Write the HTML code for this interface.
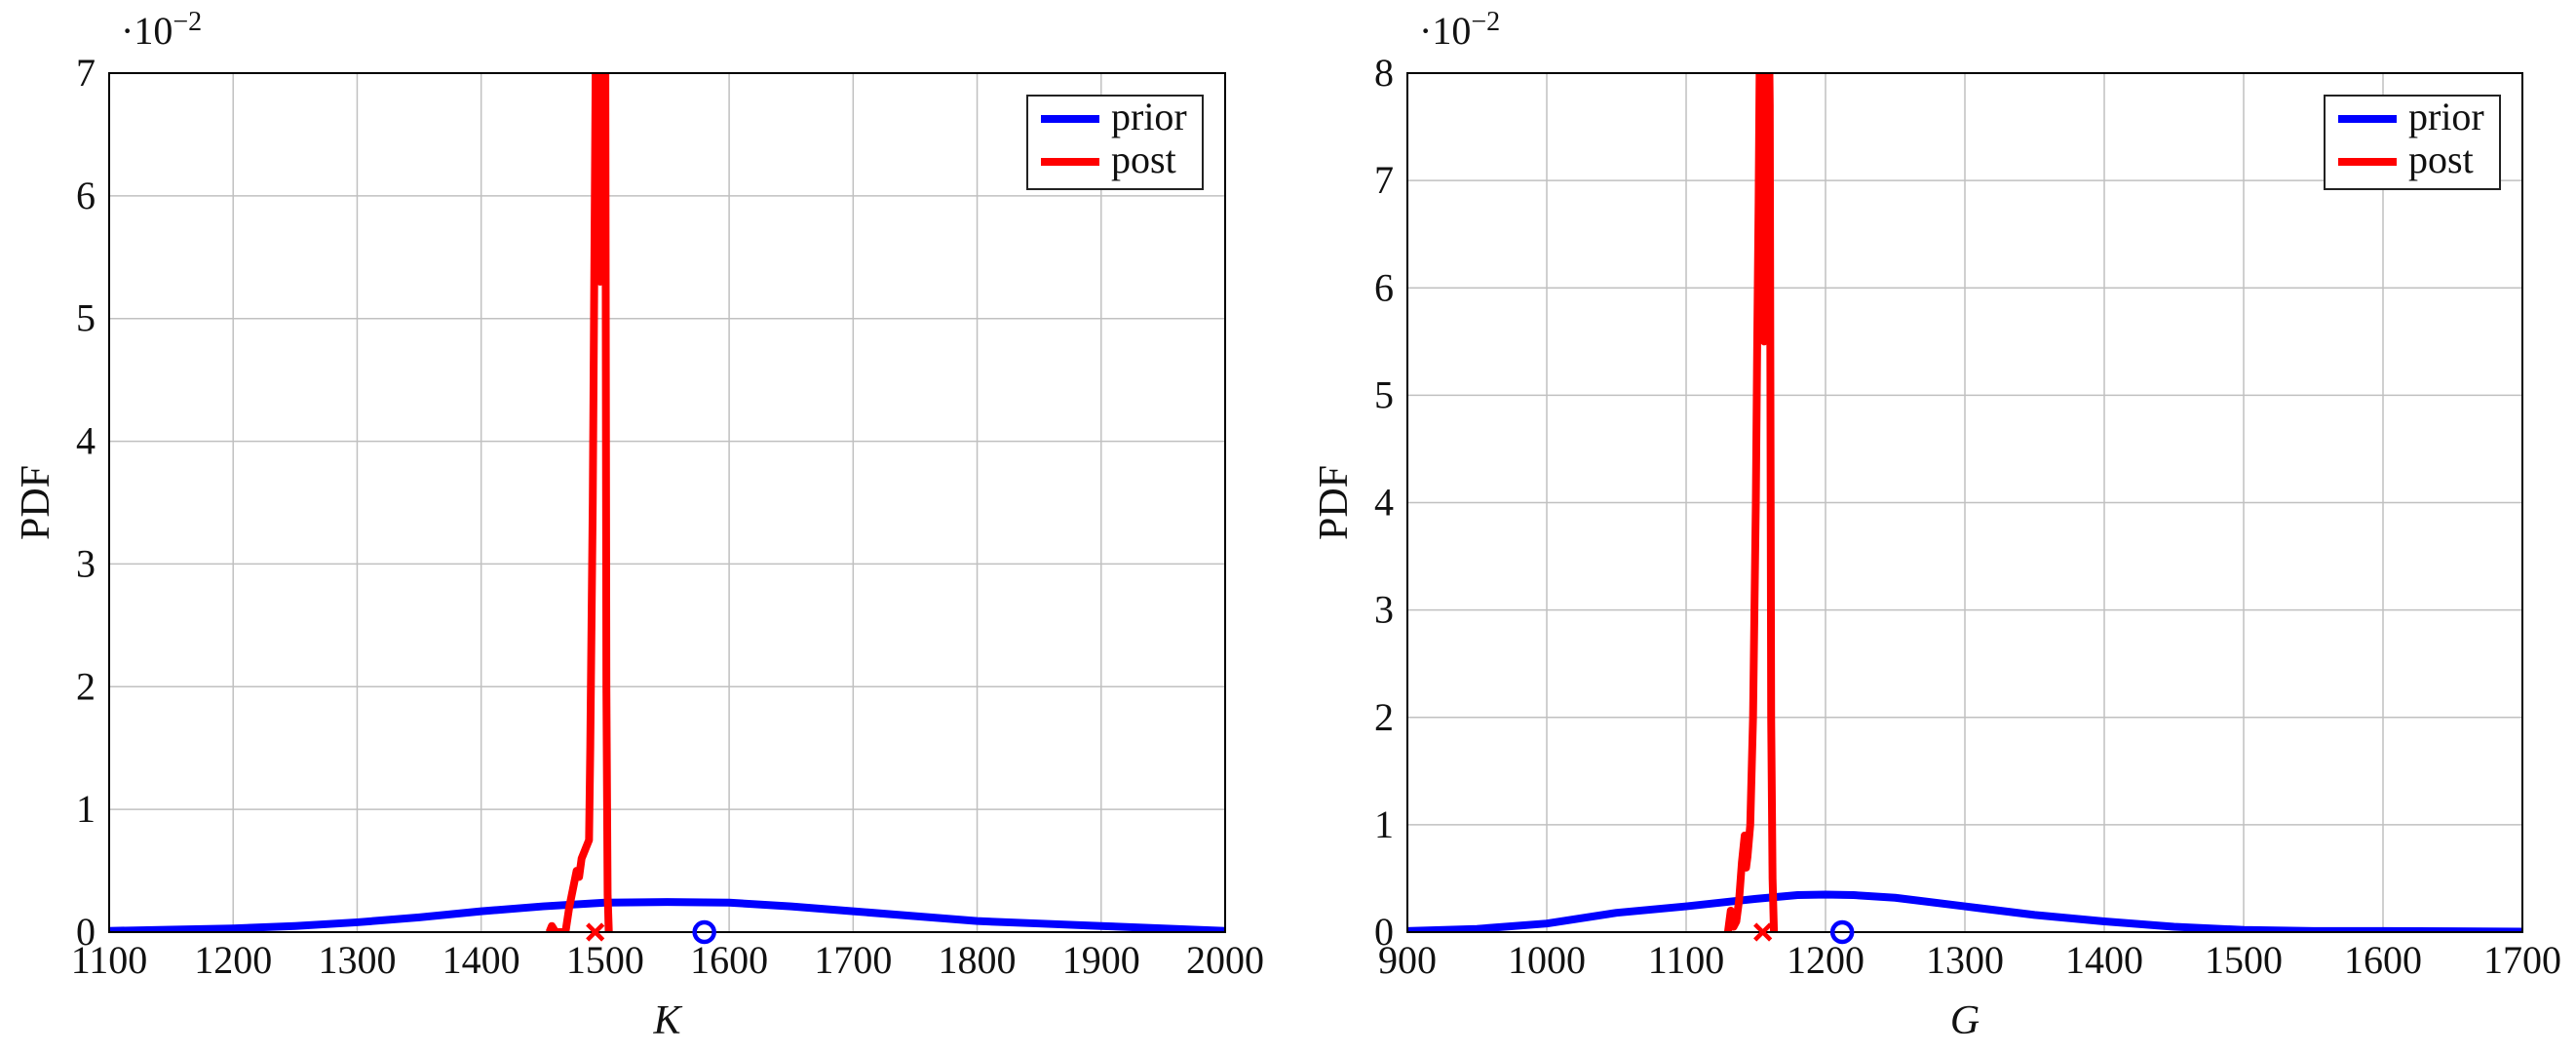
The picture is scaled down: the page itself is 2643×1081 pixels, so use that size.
<!DOCTYPE html>
<html><head><meta charset="utf-8">
<style>
html,body{margin:0;padding:0;background:#fff;}
svg{display:block;font-family:"Liberation Serif",serif;}
</style></head>
<body>
<svg id="chart" width="2643" height="1081" viewBox="0 0 2643 1081" xmlns="http://www.w3.org/2000/svg"></svg>
<script>
// Left panel (K)
const kXTicks = [1100,1200,1300,1400,1500,1600,1700,1800,1900,2000];
const kYTicks = [0,1,2,3,4,5,6,7];
const kPriorX = [1100,1150,1200,1250,1300,1350,1400,1450,1500,1550,1600,1650,1700,1750,1800,1850,1900,1950,2000];
const kPriorY = [0.01,0.02,0.03,0.05,0.08,0.12,0.17,0.21,0.24,0.245,0.24,0.21,0.17,0.13,0.09,0.07,0.05,0.03,0.01];
const kPostX = [1455,1457,1460,1468,1471,1474,1477,1479,1481,1483,1485,1487,1488,1489,1490,1491,1492,1493,1494,1495,1496,1497,1498,1499,1500,1501,1502,1503];
const kPostY = [0,0.05,0,0,0.2,0.35,0.5,0.45,0.6,0.65,0.7,0.75,1.5,2.5,3.5,5,6.5,8,9,7,5.3,8,9,10,8,2,0.3,0];
const kMarkCircle = 1580;
const kMarkCross = 1492;
// Right panel (G)
const gXTicks = [900,1000,1100,1200,1300,1400,1500,1600,1700];
const gYTicks = [0,1,2,3,4,5,6,7,8];
const gPriorX = [900,950,1000,1050,1100,1150,1180,1200,1220,1250,1300,1350,1400,1450,1500,1550,1600,1650,1700];
const gPriorY = [0.01,0.03,0.08,0.18,0.24,0.31,0.345,0.35,0.345,0.32,0.24,0.16,0.1,0.05,0.02,0.01,0.01,0.008,0.005];
const gPostX = [1130,1132,1134,1136,1138,1140,1142,1143,1144,1146,1148,1150,1151,1152,1153,1154,1155,1156,1157,1158,1159,1160,1161,1162,1163];
const gPostY = [0,0.2,0.05,0.1,0.3,0.65,0.9,0.6,0.7,1.0,2.0,4.0,5.5,6.8,8.5,10,7,5.5,9,10,9,7.7,2,0.5,0];
const gMarkCircle = 1212;
const gMarkCross = 1155;

const NS="http://www.w3.org/2000/svg";
const svg=document.getElementById('chart');
function mk(tag,attrs,parent){const e=document.createElementNS(NS,tag);for(const k in attrs)e.setAttribute(k,attrs[k]);(parent||svg).appendChild(e);return e;}

function panel(id,L,R,T,B,xmin,xmax,ymax,xt,yt,px,py,qx,qy,mc,mx,xlab){
  const g=mk('g',{});
  
  
  const sx=v=>L+(v-xmin)/(xmax-xmin)*(R-L);
  const sy=v=>B-v/ymax*(B-T);
  const cid='clip-'+id;
  const cp=mk('clipPath',{id:cid},g);mk('rect',{x:L,y:T,width:R-L,height:B-T},cp);
  xt.forEach(v=>{
    const l=mk('line',{x1:sx(v),x2:sx(v),y1:T,y2:B,stroke:'#c0c0c0','stroke-width':1.5},g);
    
    
    const t=mk('text',{x:sx(v),y:B+42,'text-anchor':'middle','font-size':40,fill:'#111'},g);
    t.textContent=v;
    
    
  });
  yt.forEach(v=>{
    const l=mk('line',{x1:L,x2:R,y1:sy(v),y2:sy(v),stroke:'#c0c0c0','stroke-width':1.5},g);
    
    
    const t=mk('text',{x:L-14,y:sy(v)+13,'text-anchor':'end','font-size':40,fill:'#111'},g);
    t.textContent=v;
    
    
  });
  const cg=mk('g',{'clip-path':'url(#'+cid+')'},g);
  const pr=mk('polyline',{points:px.map((x,i)=>sx(x)+','+sy(py[i])).join(' '),fill:'none',stroke:'#0000ff','stroke-width':8,'stroke-linejoin':'round'},cg);
  
  
  const po=mk('polyline',{points:qx.map((x,i)=>sx(x)+','+sy(qy[i])).join(' '),fill:'none',stroke:'#ff0000','stroke-width':8,'stroke-linejoin':'round'},cg);
  
  
  const fr=mk('rect',{x:L,y:T,width:R-L,height:B-T,fill:'none',stroke:'#000','stroke-width':2},g);
  
  
  const c=mk('circle',{cx:sx(mc),cy:B,r:10,fill:'none',stroke:'#0000ff','stroke-width':4.5},g);
  
  
  const cx=sx(mx);
  const xm=mk('path',{d:`M${cx-8},${B-8}L${cx+8},${B+8}M${cx-8},${B+8}L${cx+8},${B-8}`,stroke:'#ff0000','stroke-width':4.5},g);
  
  
  const ex=mk('text',{x:L+12,y:45,'font-size':40,fill:'#111'},g);
  ex.innerHTML='·10<tspan dy="-14" font-size="28">−2</tspan>';
  
  
  const yl=mk('text',{x:0,y:0,'font-size':42,fill:'#111','text-anchor':'middle',transform:`translate(${L-62},${(T+B)/2}) rotate(-90)`},g);
  yl.textContent='PDF';
  
  
  const xl=mk('text',{x:(L+R)/2,y:B+104,'font-size':42,'font-style':'italic',fill:'#111','text-anchor':'middle'},g);
  xl.textContent=xlab;
  
  
  const lg=mk('g',{},g);
  
  
  const lx=R-203, ly=T+23;
  mk('rect',{x:lx,y:ly,width:180,height:96,fill:'#fff',stroke:'#222','stroke-width':2},lg);
  [['prior','#0000ff',24],['post','#ff0000',68]].forEach(([n,col,dy])=>{
    const ln=mk('line',{x1:lx+14,x2:lx+74,y1:ly+dy,y2:ly+dy,stroke:col,'stroke-width':8},lg);
    
    
    const t=mk('text',{x:lx+86,y:ly+dy+11,'font-size':40,fill:'#111'},lg);
    t.textContent=n;
    
    
  });
}
panel('k',112,1257,75,956,1100,2000,7,kXTicks,kYTicks,kPriorX,kPriorY,kPostX,kPostY,kMarkCircle,kMarkCross,'K');
panel('g',1444,2588,75,956,900,1700,8,gXTicks,gYTicks,gPriorX,gPriorY,gPostX,gPostY,gMarkCircle,gMarkCross,'G');
</script>
</body></html>
